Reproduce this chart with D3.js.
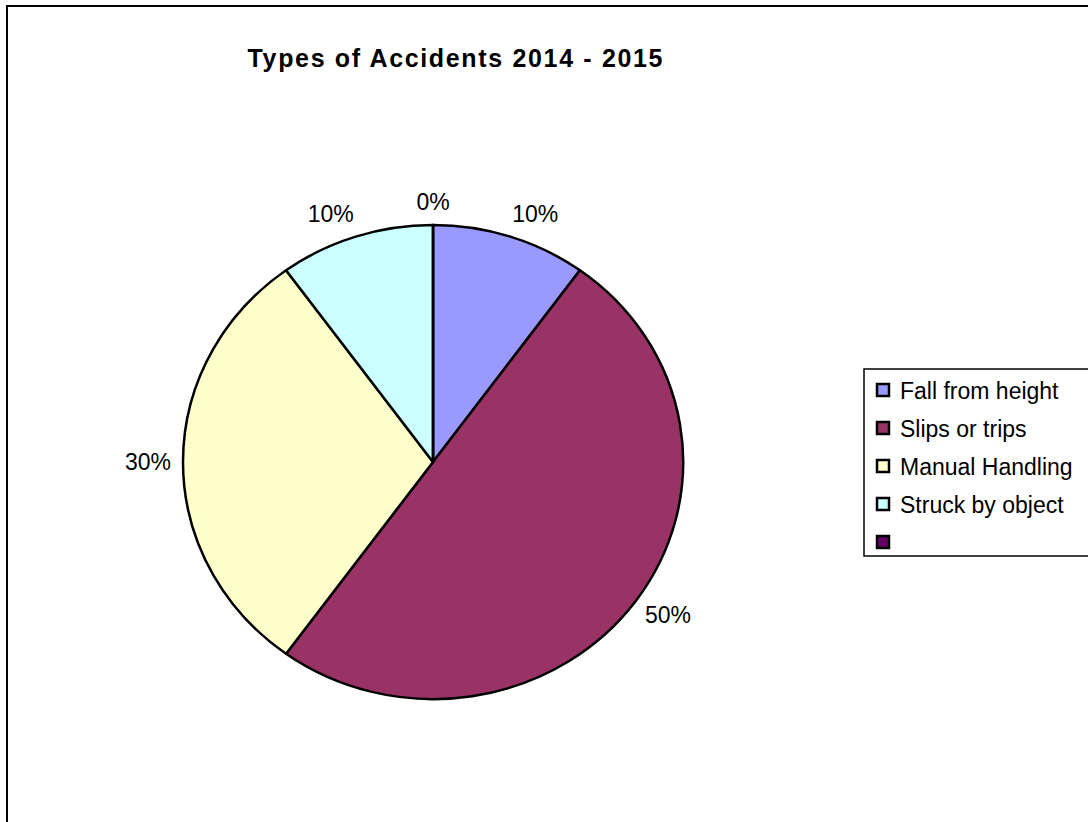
<!DOCTYPE html>
<html>
<head>
<meta charset="utf-8">
<script src="https://cdn.jsdelivr.net/npm/d3@7"></script>
<style>
  body { margin: 0; background: #fff; }
  text { font-family: "Liberation Sans", Arial, sans-serif; fill: #000; }
</style>
</head>
<body>
<div id="chart"></div>
<script>
// data
const categories = ["Fall from height", "Slips or trips", "Manual Handling", "Struck by object", ""]
const counts = [1, 5, 3, 1, 0]
const colors = ["#9999FF", "#993366", "#FFFFCC", "#CCFFFF", "#660066"]
const title = "Types of Accidents 2014 - 2015"

const width = 1088
const height = 822

const svg = d3.select("#chart")
  .append("svg")
  .attr("width", width)
  .attr("height", height)

// outer frame
svg.append("rect")
  .attr("x", 7).attr("y", 6)
  .attr("width", width + 20).attr("height", height + 20)
  .attr("fill", "#fff")
  .attr("stroke", "#000")
  .attr("stroke-width", 2)

// title
svg.append("text")
  .attr("x", 455)
  .attr("y", 67)
  .attr("text-anchor", "middle")
  .attr("textLength", 415)
  .attr("lengthAdjust", "spacing")
  .style("font-size", "25px")
  .style("font-weight", "bold")
  .text(title)

// pie (slightly stretched horizontally, like the original)
const cx = 433, cy = 462
const rx = 250, ry = 237
const total = d3.sum(counts)

const pie = d3.pie().sort(null).value(d => d)
const arcs = pie(counts)
const arc = d3.arc().innerRadius(0).outerRadius(ry)

const g = svg.append("g")
  .attr("transform", `translate(${cx},${cy}) scale(${rx / ry},1)`)

g.selectAll("path")
  .data(arcs)
  .join("path")
  .attr("d", arc)
  .attr("fill", (d, i) => colors[i])
  .attr("stroke", "#000")
  .attr("stroke-width", 2.5)
  .attr("stroke-linejoin", "round")
  .attr("vector-effect", "non-scaling-stroke")

// percentage labels outside the pie
const fmt = d3.format(".0%")
const gap = 12
const fs = 23
const labels = svg.append("g")
arcs.forEach((d, i) => {
  const a = (d.startAngle + d.endAngle) / 2
  const s = Math.sin(a), c = Math.cos(a)
  const t = labels.append("text")
    .attr("text-anchor", "middle")
    .attr("dominant-baseline", "central")
    .style("font-size", fs + "px")
    .text(fmt(d.value / total))
  const w = t.node().getComputedTextLength()
  const ax = cx + (rx + gap) * s
  const ay = cy - (ry + gap) * c
  const sx = (w / 2) * Math.max(-1, Math.min(1, s * 3))
  const sy = -(fs / 2) * c
  t.attr("x", ax + sx).attr("y", ay + sy)
})

// legend
const lx = 864, ly = 369
const legend = svg.append("g")
legend.append("rect")
  .attr("x", lx).attr("y", ly)
  .attr("width", 260).attr("height", 187)
  .attr("fill", "#fff")
  .attr("stroke", "#000")
  .attr("stroke-width", 1.5)

const rowY = d3.scalePoint()
  .domain(d3.range(categories.length))
  .range([ly + 21, ly + 173])

const item = legend.selectAll("g.item")
  .data(categories)
  .join("g")
  .attr("class", "item")
  .attr("transform", (d, i) => `translate(${lx + 13},${rowY(i)})`)

item.append("rect")
  .attr("x", 0).attr("y", -6)
  .attr("width", 12).attr("height", 12)
  .attr("fill", (d, i) => colors[i])
  .attr("stroke", "#000")
  .attr("stroke-width", 2.5)

item.append("text")
  .attr("x", 23)
  .attr("y", 1)
  .attr("dominant-baseline", "central")
  .style("font-size", "23px")
  .text(d => d)
</script>
</body>
</html>
